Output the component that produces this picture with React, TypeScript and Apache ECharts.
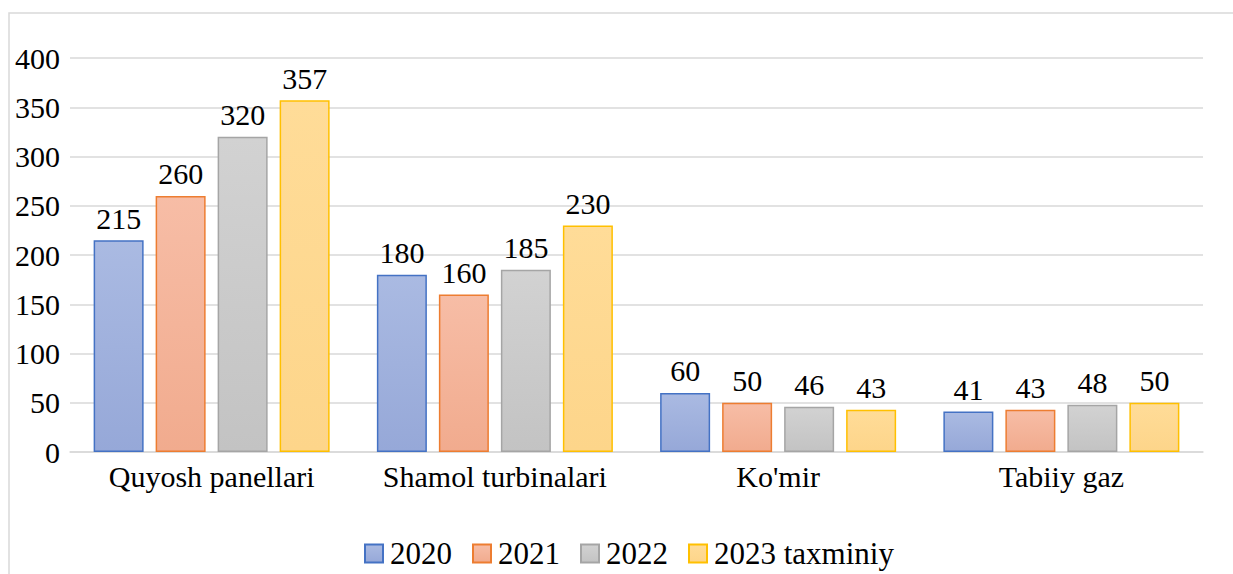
import React, { useEffect, useRef } from "react";
import * as echarts from "echarts";

const categories = ["Quyosh panellari", "Shamol turbinalari", "Ko'mir", "Tabiiy gaz"];
const seriesNames = ["2020", "2021", "2022", "2023 taxminiy"];
const values2020 = [215, 180, 60, 41];
const values2021 = [260, 160, 50, 43];
const values2022 = [320, 185, 46, 48];
const values2023 = [357, 230, 43, 50];
const yTicks = { min: 0, max: 400, interval: 50 };

const fills = [
  ["#AABAE2", "#96A8D8"],
  ["#F7BDA6", "#F1AB8E"],
  ["#D2D2D2", "#C3C3C3"],
  ["#FFDC98", "#FDD58A"],
];
const borders = ["#4472C4", "#ED7D31", "#A5A5A5", "#FFC000"];

export default function App() {
  const ref = useRef<HTMLDivElement>(null);
  useEffect(() => {
    if (!ref.current) return;
    const chart = echarts.init(ref.current, undefined, { renderer: "svg" });
    const all = [values2020, values2021, values2022, values2023];
    const font = "Liberation Serif";
    chart.setOption({
      animation: false,
      textStyle: { fontFamily: font },
      graphic: [
        {
          type: "polyline",
          shape: { points: [[9, 574], [9, 13], [1233, 13]] },
          style: { stroke: "#D9D9D9", lineWidth: 1.5, fill: "none" },
          silent: true,
        },
      ],
      grid: { left: 70, right: 30, top: 58, bottom: 122, containLabel: false },
      legend: {
        bottom: 0,
        left: 359,
        itemWidth: 18,
        itemHeight: 18,
        itemGap: 20,
        icon: "rect",
        textStyle: { fontFamily: font, fontSize: 31, color: "#000", padding: [0, 0, 0, 2] },
        data: seriesNames,
      },
      xAxis: {
        type: "category",
        data: categories,
        axisLine: { show: true, lineStyle: { color: "#D9D9D9", width: 1.5 } },
        axisTick: { show: false },
        axisLabel: {
          fontFamily: font,
          fontSize: 30,
          color: "#000",
          margin: 9,
          interval: 0,
          hideOverlap: false,
        },
      },
      yAxis: {
        type: "value",
        min: yTicks.min,
        max: yTicks.max,
        interval: yTicks.interval,
        axisLine: { show: false },
        axisTick: { show: false },
        splitLine: { lineStyle: { color: "#D9D9D9", width: 1.5 } },
        axisLabel: { fontFamily: font, fontSize: 30, color: "#000", margin: 10 },
      },
      series: seriesNames.map((name, i) => ({
        name,
        type: "bar",
        data: all[i],
        barWidth: 50,
        barGap: "24%",
        itemStyle: {
          color: new echarts.graphic.LinearGradient(0, 0, 0, 1, [
            { offset: 0, color: fills[i][0] },
            { offset: 1, color: fills[i][1] },
          ]),
          borderColor: borders[i],
          borderWidth: 1.5,
        },
        label: {
          show: true,
          position: "top",
          distance: 7,
          fontFamily: font,
          fontSize: 30,
          color: "#000",
        },
      })),
    });
    return () => chart.dispose();
  }, []);
  return (
    <div
      ref={ref}
      style={{ position: "fixed", left: 0, top: 0, width: 1233, height: 574, background: "#fff" }}
    />
  );
}
